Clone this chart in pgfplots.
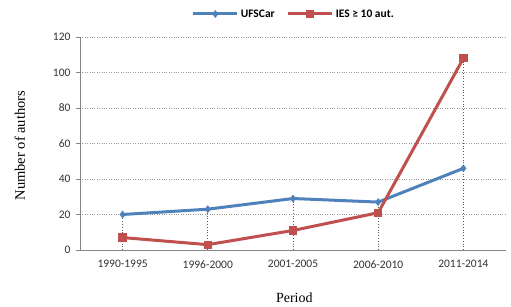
\documentclass[border=0pt]{standalone}
\usepackage{pgfplots}
\pgfplotsset{compat=1.18}
\usepackage{fontspec}
\setmainfont{Liberation Serif}
\newfontfamily\calfont{Carlito}
\definecolor{exblue}{HTML}{4F81BD}
\definecolor{exred}{HTML}{C0504D}
\definecolor{axgray}{HTML}{868686}
\begin{document}
\begin{tikzpicture}
\begin{axis}[
  name=ax, at={(0,0)}, anchor=south west,
  scale only axis, width=426pt, height=213pt,
  xmin=-0.5, xmax=4.5, ymin=0, ymax=120,
  ytick={0,20,...,120},
  xtick={0,1,2,3,4},
  xticklabels={1990-1995,1996-2000,2001-2005,2006-2010,2011-2014},
  /pgf/number format/assume math mode=true,
  axis lines=left,
  axis line style={-, draw=axgray, line width=0.8pt},
  x tick style={draw=none},
  y tick style={draw=axgray, line width=0.8pt},
  tick align=outside,
  major tick length=4pt,
  extra x ticks={-0.5,0.5,1.5,2.5,3.5,4.5},
  extra x tick labels={},
  extra x tick style={grid=none, tick style={draw=axgray, line width=0.8pt}, major tick length=4pt},
  ymajorgrids,
  grid style={dotted, draw=gray!80, line width=0.8pt},
  ticklabel style={font=\calfont\fontsize{11.5}{13}\selectfont, text=black!80},
  xticklabel style={yshift=-3pt},
  yticklabel style={xshift=-2pt},
  ylabel={Number of authors},
  ylabel style={font=\fontsize{14.5}{16}\selectfont, at={(axis description cs:-0.141,0.49)}, anchor=center, rotate=0},
  xlabel={Period},
  xlabel style={font=\fontsize{14}{16}\selectfont, at={(axis description cs:0.503,-0.225)}, anchor=center},
  clip=false,
  legend columns=2,
  legend style={at={(0.502,1.108)}, anchor=center, draw=none, fill=none,
    font=\calfont\bfseries\fontsize{11.5}{13}\selectfont,
    /tikz/every odd column/.append style={column sep=0pt},
    /tikz/every even column/.append style={column sep=10pt},
    inner sep=0pt},
  legend image code/.code={\draw[#1, mark repeat=2, mark phase=2] plot coordinates {(0pt,0pt) (22pt,0pt) (44pt,0pt)};},
]
% drop lines
\addplot[ycomb, dotted, draw=black!65, line width=0.8pt, mark=none, forget plot]
  coordinates {(0,20) (1,23) (2,29) (3,27) (4,108)};
\addplot[exblue, line width=3pt, mark=diamond*, mark size=1.5pt, mark options={solid}]
  coordinates {(0,20) (1,23) (2,29) (3,27) (4,46)};
\addlegendentry{UFSCar}
\addplot[exred, line width=3pt, mark=square*, mark size=2.6pt, mark options={solid}]
  coordinates {(0,7) (1,3) (2,11) (3,21) (4,108)};
\addlegendentry{IES ≥ 10 aut.}
\end{axis}
\useasboundingbox (-80pt,-57pt) rectangle (431pt,250pt);
\end{tikzpicture}
\end{document}
